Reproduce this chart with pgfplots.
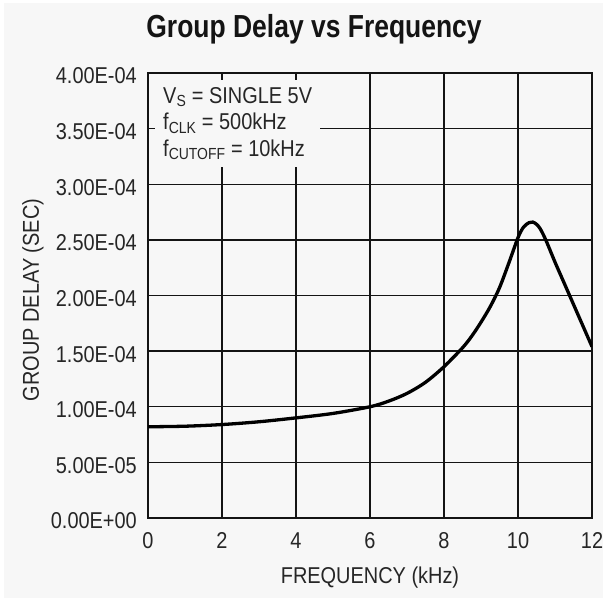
\documentclass[border=0pt]{standalone}
\usepackage{pgfplots}
\pgfplotsset{compat=1.18}
\usepackage{fontspec}
\setmainfont{Liberation Sans}[FakeStretch=0.87]
\newfontfamily\titlefont{Liberation Sans}[FakeStretch=0.83]
\definecolor{bg}{HTML}{F7F7F7}
\definecolor{ink}{HTML}{141414}
\definecolor{txt}{HTML}{262626}
\begin{document}
\begin{tikzpicture}
\fill[white] (0,0) rectangle (607bp,600bp);
\fill[bg] (4bp,2bp) rectangle (603bp,597bp);
\path[use as bounding box] (0,0) rectangle (607bp,600bp);
\begin{axis}[
  at={(148bp,82bp)}, anchor=south west,
  scale only axis, width=444bp, height=445bp,
  xmin=0, xmax=12, ymin=0, ymax=0.0004,
  xtick={0,2,...,12},
  ytick={0,0.00005,0.0001,0.00015,0.0002,0.00025,0.0003,0.00035,0.0004},
  yticklabels={0.00E+00,5.00E-05,1.00E-04,1.50E-04,2.00E-04,2.50E-04,3.00E-04,3.50E-04,4.00E-04},
  scaled y ticks=false,
  /pgf/number format/assume math mode=true,
  grid=major,
  major grid style={ink, line width=1.3bp},
  axis line style={ink, line width=1.3bp},
  major tick length=0pt,
  tick label style={font=\fontsize{23}{26}\selectfont, text=txt},
  xticklabel style={anchor=base, yshift=-31bp},
  yticklabel style={anchor=east, inner sep=0pt, xshift=-11bp, yshift=-3bp},
  axis background/.style={fill=bg},
  every axis x label/.style={at={(axis description cs:0.5,0)}, anchor=base, yshift=-65bp, font=\fontsize{23}{26}\selectfont, text=txt},
  every axis y label/.style={at={(axis description cs:-0.259,0.49)}, rotate=90, anchor=center, font=\fontsize{23}{26}\selectfont, text=txt},
  xlabel={FREQUENCY (kHz)},
  ylabel={GROUP DELAY (SEC)},
  title={Group Delay vs Frequency},
  title style={at={(0.374,1)}, anchor=base, yshift=30bp, font=\fontsize{32}{36}\selectfont\titlefont\bfseries, text=ink},
]
\addplot[black, line width=3.3bp, smooth] coordinates {
(0,0.0000820) (1,0.0000825) (2,0.0000840) (3,0.0000865) (4,0.0000900)
(5,0.0000940) (6,0.0001000) (6.5,0.0001050) (7,0.0001120) (7.5,0.0001220)
(8,0.0001360) (8.5,0.0001530) (8.75,0.0001635) (9,0.0001760) (9.25,0.0001900)
(9.5,0.0002070) (9.75,0.0002290) (10,0.0002520) (10.15,0.0002615) (10.3,0.0002655)
(10.4,0.0002660) (10.5,0.0002640) (10.6,0.0002600) (10.75,0.0002500) (11,0.0002300)
(11.25,0.0002110) (11.5,0.0001920) (11.75,0.0001730) (12,0.0001540)
};
\node[fill=bg, anchor=north west, align=left, inner xsep=8bp, inner ysep=7bp, font=\fontsize{23}{26.5}\selectfont, text=txt]
  at (axis cs:0.19,0.0003937)
  {V\textsubscript{S} = SINGLE 5V\\f\textsubscript{CLK} = 500kHz\\f\textsubscript{CUTOFF} = 10kHz};
\end{axis}
\end{tikzpicture}
\end{document}
